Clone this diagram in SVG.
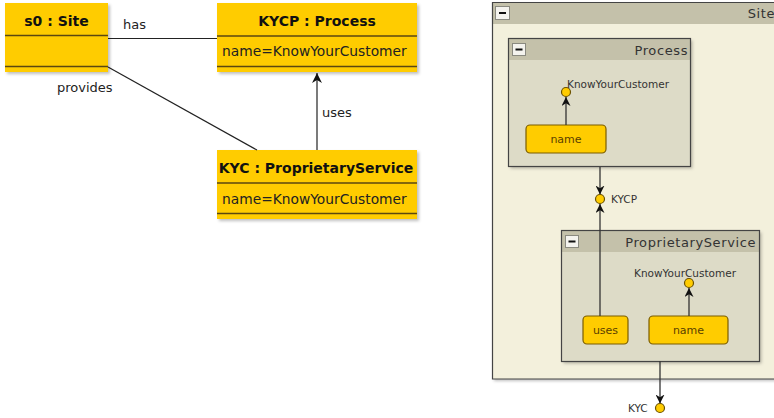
<svg xmlns="http://www.w3.org/2000/svg" width="774" height="418" viewBox="0 0 774 418">
  <style>
    .cls { fill: #ffcc00; }
    .div { stroke: #5a4710; stroke-width: 1.6; }
    .title { font-family: "DejaVu Sans", sans-serif; font-weight: bold; font-size: 14px; fill: #111; }
    .attr { font-family: "DejaVu Sans", sans-serif; font-size: 13.8px; fill: #222; }
    .lbl { font-family: "DejaVu Sans", sans-serif; font-size: 13px; fill: #222; }
    .edge { stroke: #222; stroke-width: 1.2; fill: none; }
    .frameHead { fill: #c4c1aa; }
    .frameBody { fill: #dddbc7; }
    .frameLine { stroke: #444; stroke-width: 1.2; fill: none; }
    .ftitle { font-family: "DejaVu Sans", sans-serif; font-size: 13px; fill: #333; letter-spacing: 0.6px; }
    .small { font-family: "DejaVu Sans", sans-serif; font-size: 10.5px; fill: #333; }
    .part { fill: #ffcc00; stroke: #7a5c00; stroke-width: 1.2; }
    .ptxt { font-family: "DejaVu Sans", sans-serif; font-size: 11px; fill: #5a4000; }
    .port { fill: #ffcc00; stroke: #6b5200; stroke-width: 1.2; }
    .pedge { stroke: #333; stroke-width: 1.3; fill: none; }
    .btn { fill: #f4f3ee; stroke: #8a8a80; stroke-width: 1; }
  </style>
  <defs>
    <marker id="arrow" viewBox="0 0 10 10" refX="10" refY="5" markerWidth="10" markerHeight="10" markerUnits="userSpaceOnUse" orient="auto">
      <path d="M0,0 L10,5 L0,10 L3,5 Z" fill="#111"/>
    </marker>
    <marker id="arrowSm" viewBox="0 0 10 10" refX="10" refY="5" markerWidth="9" markerHeight="9" markerUnits="userSpaceOnUse" orient="auto">
      <path d="M0,0 L10,5 L0,10 L3,5 Z" fill="#111"/>
    </marker>
    <filter id="shadow" x="-5%" y="-5%" width="115%" height="115%">
      <feDropShadow dx="2" dy="2" stdDeviation="1.5" flood-color="#000" flood-opacity="0.25"/>
    </filter>
  </defs>

  <!-- object: s0 : Site -->
  <g id="s0">
    <rect class="cls" x="5" y="3" width="103" height="69" filter="url(#shadow)"/>
    <line class="div" x1="5" y1="35.5" x2="108" y2="35.5"/>
    <line class="div" x1="5" y1="66.5" x2="108" y2="66.5"/>
    <text class="title" x="56.5" y="26" text-anchor="middle">s0 : Site</text>
  </g>

  <!-- object: KYCP : Process -->
  <g id="KYCP">
    <rect class="cls" x="217" y="3" width="200" height="69" filter="url(#shadow)"/>
    <line class="div" x1="217" y1="36" x2="417" y2="36"/>
    <line class="div" x1="217" y1="66.5" x2="417" y2="66.5"/>
    <text class="title" x="317" y="26" text-anchor="middle">KYCP : Process</text>
    <text class="attr" x="222" y="56">name=KnowYourCustomer</text>
  </g>

  <!-- object: KYC : ProprietaryService -->
  <g id="KYC">
    <rect class="cls" x="217" y="150" width="200" height="69" filter="url(#shadow)"/>
    <line class="div" x1="217" y1="183" x2="417" y2="183"/>
    <line class="div" x1="217" y1="213.5" x2="417" y2="213.5"/>
    <text class="title" x="316" y="173" text-anchor="middle">KYC : ProprietaryService</text>
    <text class="attr" x="222" y="204">name=KnowYourCustomer</text>
  </g>

  <!-- composite frame: Site -->
  <g id="site-frame">
    <rect x="492" y="2" width="290" height="377" fill="#f3f0dc" filter="url(#shadow)"/>
    <rect class="frameHead" x="492" y="2" width="290" height="22"/>
    <path class="frameLine" d="M782,2.5 H492.5 V379 H782"/>
    <rect class="btn" x="495.5" y="6.5" width="14" height="13"/>
    <line x1="499" y1="13" x2="506" y2="13" stroke="#111" stroke-width="2"/>
    <text class="ftitle" x="775" y="18" text-anchor="end">Site</text>
  </g>

  <!-- part frame: Process -->
  <g id="process-frame">
    <rect class="frameBody" x="508.5" y="38.5" width="182" height="128" filter="url(#shadow)"/>
    <rect class="frameHead" x="509" y="39" width="181" height="21"/>
    <rect class="frameLine" x="508.5" y="38.5" width="182" height="128"/>
    <rect class="btn" x="512.5" y="43.5" width="13" height="12"/>
    <line x1="515.5" y1="49.5" x2="522.5" y2="49.5" stroke="#111" stroke-width="2"/>
    <text class="ftitle" x="688" y="55" text-anchor="end">Process</text>
  </g>

  <g id="process-name">
    <rect class="part" x="526" y="125" width="80" height="28" rx="4"/>
    <text class="ptxt" x="566" y="143" text-anchor="middle">name</text>
  </g>

  <!-- part frame: ProprietaryService -->
  <g id="service-frame">
    <rect class="frameBody" x="561.5" y="230.5" width="198" height="131" filter="url(#shadow)"/>
    <rect class="frameHead" x="562" y="231" width="197" height="21"/>
    <rect class="frameLine" x="561.5" y="230.5" width="198" height="131"/>
    <rect class="btn" x="565.5" y="235.5" width="13" height="12"/>
    <line x1="568.5" y1="241.5" x2="575.5" y2="241.5" stroke="#111" stroke-width="2"/>
    <text class="ftitle" x="756" y="247" text-anchor="end">ProprietaryService</text>
  </g>

  <g id="service-uses">
    <rect class="part" x="583" y="316" width="45" height="28" rx="4"/>
    <text class="ptxt" x="605.5" y="334" text-anchor="middle">uses</text>
  </g>

  <g id="service-name">
    <rect class="part" x="649" y="316" width="79" height="28" rx="4"/>
    <text class="ptxt" x="688.5" y="334" text-anchor="middle">name</text>
  </g>

  <!-- links and arrows, drawn above the frames -->
  <g id="connectors">
    <line class="edge" x1="108" y1="38.5" x2="217" y2="38.5"/>
    <text class="lbl" x="123" y="29">has</text>
    <line class="edge" x1="108" y1="67" x2="257" y2="150"/>
    <text class="lbl" x="57" y="92">provides</text>
    <line class="edge" x1="317" y1="150" x2="317" y2="73" marker-end="url(#arrow)"/>
    <text class="lbl" x="322" y="117">uses</text>

    <line class="pedge" x1="566" y1="125" x2="566" y2="97" marker-end="url(#arrowSm)"/>
    <line class="pedge" x1="600" y1="167" x2="600" y2="194.5" marker-end="url(#arrowSm)"/>
    <line class="pedge" x1="600" y1="316" x2="600" y2="204" marker-end="url(#arrowSm)"/>
    <line class="pedge" x1="689" y1="316" x2="689" y2="288" marker-end="url(#arrowSm)"/>
    <line class="pedge" x1="660" y1="361" x2="660" y2="403.5" marker-end="url(#arrowSm)"/>
  </g>

  <!-- ports -->
  <g id="process-port">
    <circle class="port" cx="566" cy="92" r="4.5"/>
    <text class="small" x="567" y="88">KnowYourCustomer</text>
  </g>

  <g id="KYCP-port">
    <circle class="port" cx="600" cy="199" r="4.5"/>
    <text class="small" x="611" y="203">KYCP</text>
  </g>

  <g id="service-port">
    <circle class="port" cx="689" cy="283" r="4.5"/>
    <text class="small" x="634" y="277">KnowYourCustomer</text>
  </g>

  <g id="KYC-port">
    <circle class="port" cx="660" cy="408" r="4.5"/>
    <text class="small" x="628" y="412">KYC</text>
  </g>
</svg>
